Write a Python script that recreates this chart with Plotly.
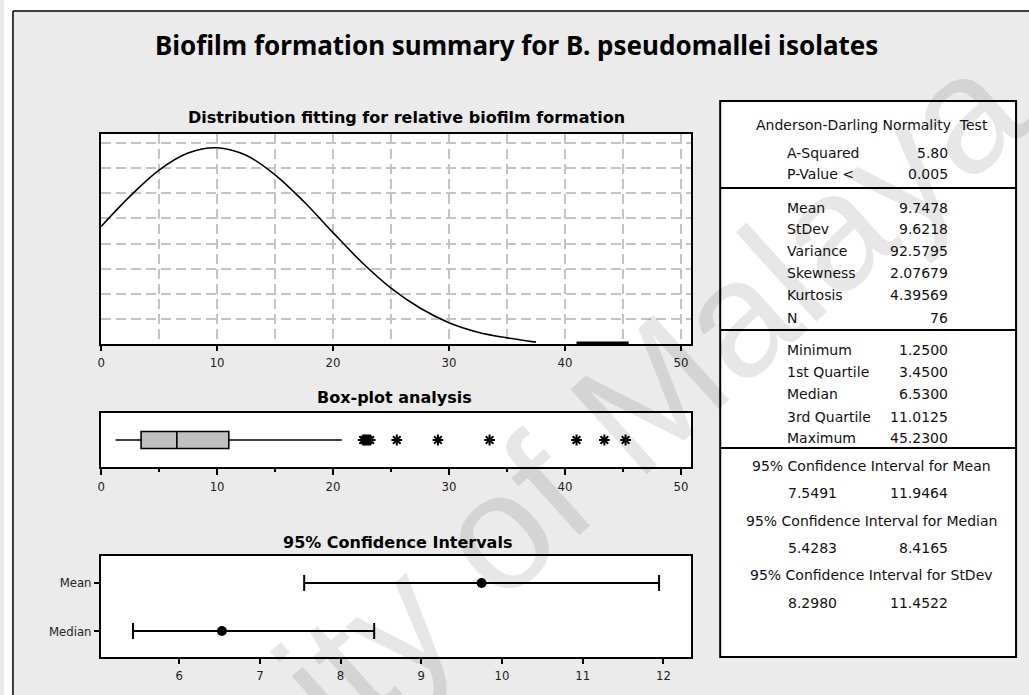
import plotly.graph_objects as go

# ---------------- data ----------------
fit_x = [0, 2.5, 5, 7.5, 10, 12.5, 15, 17.5, 20, 22.5, 25, 27.5, 30, 32.5, 35, 37.5]
fit_density = [0.0248, 0.0312, 0.0367, 0.0403, 0.0414, 0.0398, 0.0357, 0.0300,
               0.0235, 0.0172, 0.0118, 0.0076, 0.0045, 0.0025, 0.0013, 0.0004]
tail_x = [41.0, 45.5]
tail_density = [0.0002, 0.0002]

box_min = 1.25
box_q1 = 3.45
box_median = 6.53
box_q3 = 11.0125
box_whisker_hi = 20.75
outliers = [22.6, 22.75, 22.9, 23.05, 23.2, 25.5, 29.05, 33.5, 41.0, 43.4, 45.23]

ci_plot_labels = ["Mean", "Median"]
ci_point = [9.7478, 6.53]
ci_lo = [7.5491, 5.4283]
ci_hi = [11.9464, 8.4165]

ad_title = "Anderson-Darling Normality  Test"
ad_labels = ["A-Squared", "P-Value <"]
ad_values = ["5.80", "0.005"]
desc_labels = ["Mean", "StDev", "Variance", "Skewness", "Kurtosis", "N"]
desc_values = ["9.7478", "9.6218", "92.5795", "2.07679", "4.39569", "76"]
quart_labels = ["Minimum", "1st Quartile", "Median", "3rd Quartile", "Maximum"]
quart_values = ["1.2500", "3.4500", "6.5300", "11.0125", "45.2300"]
ci_titles = ["95% Confidence Interval for Mean",
             "95% Confidence Interval for Median",
             "95% Confidence Interval for StDev"]
ci_lower_txt = ["7.5491", "5.4283", "8.2980"]
ci_upper_txt = ["11.9464", "8.4165", "11.4522"]

main_title = "Biofilm formation summary for B. pseudomallei isolates"
sub_titles = ["Distribution fitting for relative biofilm formation",
              "Box-plot analysis", "95% Confidence Intervals"]
watermark = "University of Malaya"

# ---------------- layout helpers ----------------
W, H = 1029, 695


def fx(x):
    return x / W


def fy(y):
    return 1 - y / H


TICK_FONT = dict(family="Liberation Sans Narrow, DejaVu Sans Condensed, sans-serif", size=13, color="#222")
TABLE_FONT = dict(family="DejaVu Sans, Verdana, sans-serif", size=14, color="#111")
SUB_FONT = dict(family="DejaVu Sans, Verdana, sans-serif", size=16, color="#000")
GRID = "#c4c4c4"

fig = go.Figure()

# distribution curve
fig.add_trace(go.Scatter(x=fit_x, y=fit_density, mode="lines", line=dict(color="black", width=1.6, shape="spline"),
                         xaxis="x", yaxis="y", showlegend=False, hoverinfo="skip"))
fig.add_trace(go.Scatter(x=tail_x, y=tail_density, mode="lines", line=dict(color="black", width=3),
                         xaxis="x", yaxis="y", showlegend=False, hoverinfo="skip"))

# box plot
fig.add_trace(go.Box(y=[0], q1=[box_q1], median=[box_median], q3=[box_q3], lowerfence=[box_min],
                     upperfence=[box_whisker_hi], orientation="h", boxpoints=False, fillcolor="#c0c0c0",
                     line=dict(color="black", width=1.6), whiskerwidth=0, width=0.63,
                     xaxis="x2", yaxis="y2", showlegend=False, hoverinfo="skip"))
fig.add_trace(go.Scatter(x=outliers, y=[0] * len(outliers), mode="markers",
                         marker=dict(symbol="asterisk-open", size=9, color="black", line=dict(color="black", width=2)),
                         xaxis="x2", yaxis="y2", showlegend=False, hoverinfo="skip"))

# confidence intervals
fig.add_trace(go.Scatter(x=ci_point, y=ci_plot_labels, mode="markers",
                         marker=dict(symbol="circle", size=10, color="black"),
                         error_x=dict(type="data", symmetric=False,
                                      array=[h - p for h, p in zip(ci_hi, ci_point)],
                                      arrayminus=[p - l for l, p in zip(ci_lo, ci_point)],
                                      color="black", thickness=2, width=8),
                         xaxis="x3", yaxis="y3", showlegend=False, hoverinfo="skip"))

xdom = [fx(97.5), fx(690)]
frame = dict(showline=True, linecolor="black", linewidth=2, mirror=True, zeroline=False)

layout = dict(
    width=W, height=H, margin=dict(l=0, r=0, t=0, b=0),
    paper_bgcolor="#ebebeb", plot_bgcolor="white",
    xaxis=dict(domain=xdom, range=[0, 50.9], anchor="y", tickmode="linear", tick0=0, dtick=10,
               ticks="outside", ticklen=5, tickwidth=1.5, tickcolor="black", tickfont=TICK_FONT,
               showgrid=True, gridcolor=GRID, gridwidth=1.5, griddash="10px,5px",
               minor=dict(dtick=5, showgrid=True, gridcolor=GRID, gridwidth=1.5, griddash="10px,5px"),
               **frame),
    yaxis=dict(domain=[fy(344), fy(134)], range=[0, 0.0443], anchor="x", tickmode="linear", tick0=0,
               dtick=0.0053, showticklabels=False, ticks="", showgrid=True, gridcolor=GRID, gridwidth=1.5,
               griddash="10px,5px", **frame),
    xaxis2=dict(domain=xdom, range=[0, 50.9], anchor="y2", tickmode="linear", tick0=0, dtick=10,
                ticks="outside", ticklen=6, tickwidth=1.5, tickcolor="black", tickfont=TICK_FONT,
                showgrid=False, minor=dict(dtick=5, ticks="outside", ticklen=3, tickwidth=1.5, tickcolor="black"),
                **frame),
    yaxis2=dict(domain=[fy(467), fy(413)], range=[-1, 1], anchor="x2", showticklabels=False, ticks="",
                showgrid=False, **frame),
    xaxis3=dict(domain=xdom, range=[5.033, 12.346], anchor="y3", tickmode="linear", tick0=6, dtick=1,
                ticks="outside", ticklen=5, tickwidth=1.5, tickcolor="black", tickfont=TICK_FONT,
                showgrid=False, **frame),
    yaxis3=dict(domain=[fy(657), fy(556)], type="category", categoryorder="array",
                categoryarray=["Median", "Mean"], range=[-0.54, 1.56], anchor="x3",
                ticks="outside", ticklen=5, tickwidth=1.5, tickcolor="black", tickfont=TICK_FONT,
                showgrid=False, **frame),
)
fig.update_layout(**layout)

shapes = []
# outer white margin + frame lines
shapes.append(dict(type="rect", xref="paper", yref="paper", x0=0, x1=1, y0=fy(10.5), y1=1,
                   fillcolor="white", line=dict(width=0)))
shapes.append(dict(type="rect", xref="paper", yref="paper", x0=0, x1=fx(8.5), y0=0, y1=1,
                   fillcolor="white", line=dict(width=0)))
shapes.append(dict(type="line", xref="paper", yref="paper", x0=fx(9), x1=1, y0=fy(11), y1=fy(11),
                   line=dict(color="black", width=1.5)))
shapes.append(dict(type="line", xref="paper", yref="paper", x0=fx(9), x1=fx(9), y0=0, y1=fy(11),
                   line=dict(color="black", width=1.5)))
# statistics table
shapes.append(dict(type="rect", xref="paper", yref="paper", x0=fx(719), x1=fx(1016), y0=fy(657), y1=fy(101),
                   fillcolor="white", line=dict(color="black", width=2)))
for sy in [188, 330, 448]:
    shapes.append(dict(type="line", xref="paper", yref="paper", x0=fx(719), x1=fx(1016), y0=fy(sy), y1=fy(sy),
                       line=dict(color="black", width=2)))

ann = []


def text(x, y, s, font, xanchor="center"):
    ann.append(dict(x=fx(x), y=fy(y), xref="paper", yref="paper", text=s, showarrow=False,
                    xanchor=xanchor, yanchor="middle", font=font))


text(514, 45, "<b>" + main_title + "</b>", dict(family="Noto Sans, Open Sans, sans-serif", size=26, color="#000"))
text(404, 117, "<b>" + sub_titles[0] + "</b>", SUB_FONT)
text(392, 398, "<b>" + sub_titles[1] + "</b>", SUB_FONT)
text(395, 542, "<b>" + sub_titles[2] + "</b>", SUB_FONT)

text(871, 125, ad_title, TABLE_FONT)
for lab, val, yy in zip(ad_labels, ad_values, [153, 174]):
    text(784, yy, lab, TABLE_FONT, "left")
    text(950, yy, val, TABLE_FONT, "right")
for lab, val, yy in zip(desc_labels, desc_values, [208, 229, 251, 273, 295, 318]):
    text(784, yy, lab, TABLE_FONT, "left")
    text(950, yy, val, TABLE_FONT, "right")
for lab, val, yy in zip(quart_labels, quart_values, [350, 372, 394.5, 416.5, 438]):
    text(784, yy, lab, TABLE_FONT, "left")
    text(950, yy, val, TABLE_FONT, "right")
for t, lo, hi, ty, vy in zip(ci_titles, ci_lower_txt, ci_upper_txt, [466, 521, 575], [493, 548, 603]):
    text(871, ty, t, TABLE_FONT)
    text(785, vy, lo, TABLE_FONT, "left")
    text(950, vy, hi, TABLE_FONT, "right")

# watermark
ann.append(dict(x=fx(438), y=fy(582), xref="paper", yref="paper", text=watermark, showarrow=False,
                textangle=-42, xanchor="center", yanchor="middle",
                font=dict(family="Liberation Sans, Arial, sans-serif", size=166, color="rgba(0,0,0,0.095)")))

fig.update_layout(shapes=shapes, annotations=ann)

fig.write_html("out.html", config={"displayModeBar": False},
               post_script="document.body.style.margin='0';document.body.style.overflow='hidden';")
